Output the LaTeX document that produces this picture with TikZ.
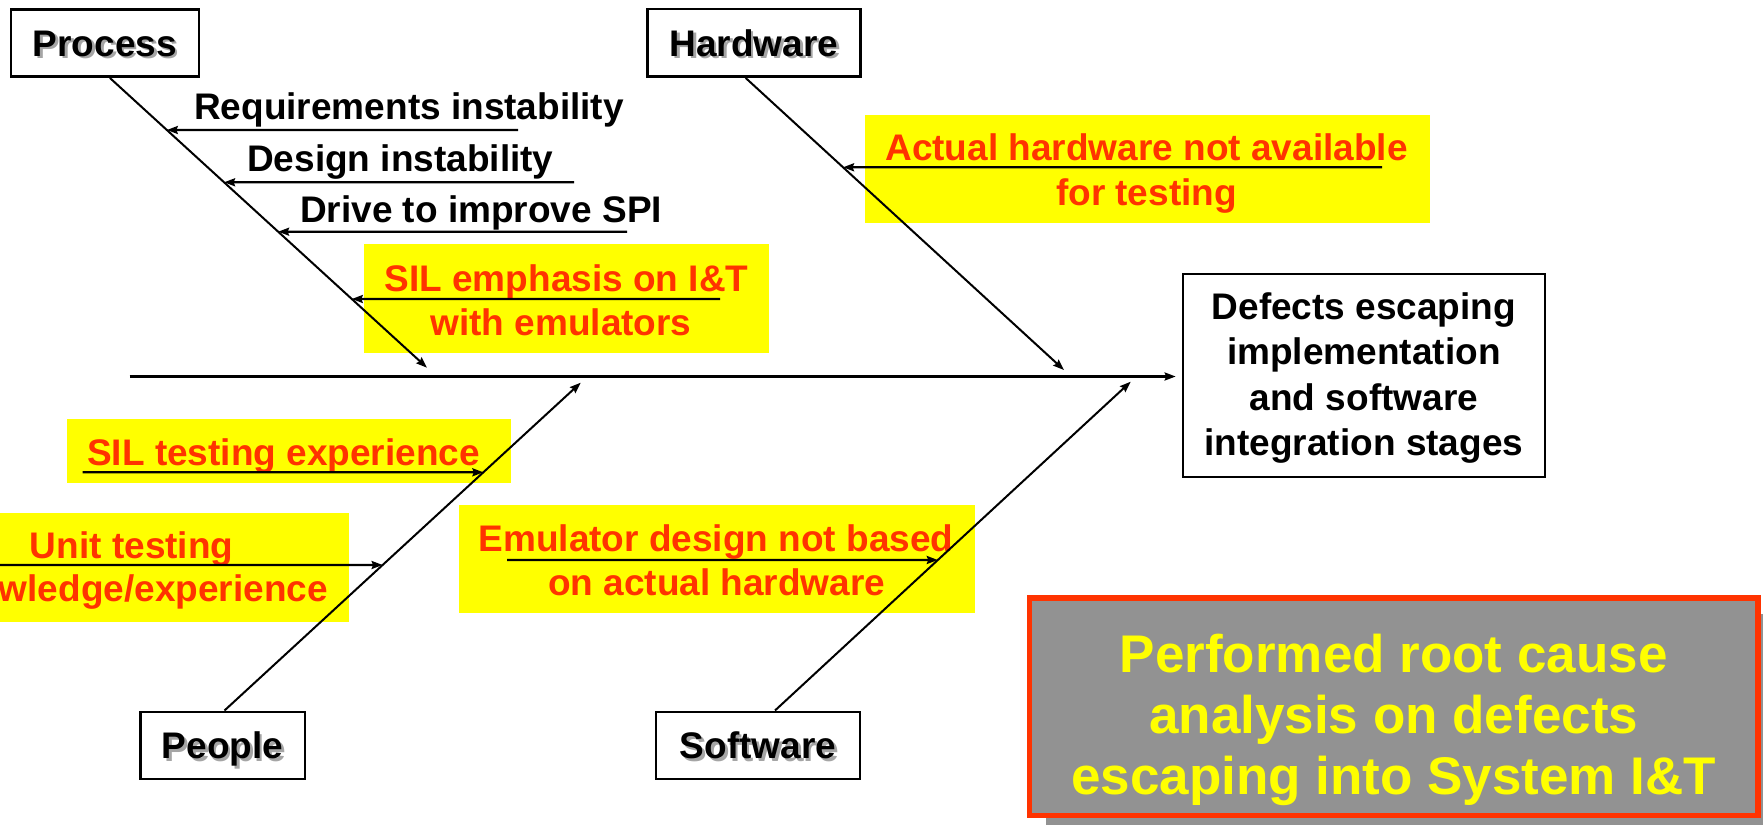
\documentclass[tikz,border=0pt]{standalone}
\usepackage{fontspec}
\setmainfont{Liberation Sans}
\usetikzlibrary{arrows.meta,shadows}

\definecolor{causered}{RGB}{255,51,0}
\definecolor{markyellow}{RGB}{255,255,0}
\definecolor{panelgray}{RGB}{146,146,146}
\definecolor{labelshade}{RGB}{165,165,165}

% category label with a soft grey drop shadow behind the letters
\newcommand\shadedlabel[1]{\rlap{\kern2.5pt\raisebox{-2.5pt}{\textcolor{labelshade}{#1}}}#1}

\begin{document}
\begin{tikzpicture}[x=1pt,y=-1pt,
  font=\fontsize{37}{39}\selectfont\bfseries,
  category/.style={draw,line width=2.5pt,fill=white,inner sep=0pt,text height=26.5pt,text depth=0pt},
  note/.style={anchor=base,inner sep=0pt},
  cause/.style={note,text=causered},
  hilite/.style={fill=markyellow,inner sep=0pt},
  tip/.style={-{Stealth[length=11pt,width=8pt,inset=1.5pt]}},
  bone/.style={line width=2pt,tip},
  twig/.style={line width=2.2pt,tip},
]
\useasboundingbox (0,0) rectangle (1763,824);
\clip (0,0) rectangle (1763,824);

% yellow highlight panels
\node[hilite,minimum width=405pt,minimum height=108.7pt]   (hlEmph) at (566.5,298.4) {};
\node[hilite,minimum width=564.8pt,minimum height=108.3pt] (hlHw)   at (1147.4,169.2) {};
\node[hilite,minimum width=444pt,minimum height=64pt]      (hlSil)  at (289,451) {};
\node[hilite,minimum width=436pt,minimum height=108.4pt]   (hlUnit) at (131,567.5) {};
\node[hilite,minimum width=515.5pt,minimum height=108.3pt] (hlEmu)  at (716.8,559.2) {};

% causes
\node[note,anchor=base west] (tReq) at (194,120)   {Requirements instability};
\node[note,anchor=base west] (tDes) at (247,171.7) {Design instability};
\node[note,anchor=base west] (tDrv) at (300,222.7) {Drive to improve SPI};

\node[cause] (tEmphA) at (566.5,291) {SIL emphasis on I\&T};
\node[cause] (tEmphB) at (561,335)   {with emulators};
\node[cause] (tHwA)   at (1146.5,160) {Actual hardware not available};
\node[cause] (tHwB)   at (1146.5,205) {for testing};
\node[cause,anchor=base west] (tSil) at (87,465) {SIL testing experience};
\node[cause] (tUnitA) at (131.7,558.3) {Unit testing};
\node[cause] (tUnitB) at (130.5,601.7) {knowledge/experience};
\node[cause] (tEmuA)  at (716,551)   {Emulator design not based};
\node[cause] (tEmuB)  at (716.7,595) {on actual hardware};

% category boxes
\node[category,minimum width=187.7pt,minimum height=67.4pt] (process)  at (104.9,43)   {\shadedlabel{Process}};
\node[category,minimum width=212.7pt,minimum height=67.7pt] (hardware) at (754,42.8)   {\shadedlabel{Hardware}};
\node[category,minimum width=164.5pt,minimum height=67.3pt] (people)   at (222.5,745.4) {\shadedlabel{People}};
\node[category,minimum width=204pt,minimum height=67.3pt]   (software) at (758,745.4)  {\shadedlabel{Software}};

% effect box (text height/depth measured from the last line's baseline)
\node[draw,line width=2.5pt,fill=white,inner sep=0pt,minimum width=362pt,minimum height=202.7pt,
      align=center,font=\fontsize{37}{45.5}\selectfont\bfseries,text height=168.2pt,text depth=8pt]
  (effect) at (1363.9,375.4)
  {Defects escaping\\implementation\\and software\hspace*{0.6em}\\integration stages};

% spine
\coordinate (spineTail) at (129.5,376.5);
\draw[line width=2.4pt,tip,shorten >=6pt] (spineTail) -- (spineTail -| effect.west);

% main bones
\coordinate (procRoot) at ([xshift=5pt]process.south);
\coordinate (hwRoot)   at ([xshift=-8.4pt]hardware.south);
\coordinate (pplRoot)  at ([xshift=2pt]people.north);
\coordinate (swRoot)   at ([xshift=17pt]software.north);
\coordinate (procTip) at (427,367.7);
\coordinate (hwTip)   at (1064,370);
\coordinate (pplTip)  at (580.7,382.7);
\coordinate (swTip)   at (1130.7,381.7);
\draw[bone] (procRoot) -- (procTip);
\draw[bone] (hwRoot) -- (hwTip);
\draw[bone] (pplRoot) -- (pplTip);
\draw[bone] (swRoot) -- (swTip);

% sub-causes feeding the bones
\coordinate (cReq)  at (518,130);
\coordinate (cDes)  at (574,182.3);
\coordinate (cDrv)  at (627,231.7);
\coordinate (cEmph) at (720,299);
\coordinate (cHw)   at (1382,167.3);
\coordinate (cSil)  at (82.7,472.3);
\coordinate (cUnit) at (-5,565);
\coordinate (cEmu)  at (507,560);
\draw[twig] (cReq)  -- (intersection of procRoot--procTip and cReq--0,130);
\draw[twig] (cDes)  -- (intersection of procRoot--procTip and cDes--0,182.3);
\draw[twig] (cDrv)  -- (intersection of procRoot--procTip and cDrv--0,231.7);
\draw[twig] (cEmph) -- (intersection of procRoot--procTip and cEmph--0,299);
\draw[twig] (cHw)   -- (intersection of hwRoot--hwTip and cHw--0,167.3);
\draw[twig] (cSil)  -- (intersection of pplRoot--pplTip and cSil--600,472.3);
\draw[twig] (cUnit) -- (intersection of pplRoot--pplTip and cUnit--600,565);
\draw[twig] (cEmu)  -- (intersection of swRoot--swTip and cEmu--1100,560);

% summary panel
\node[draw=causered,line width=5.7pt,fill=panelgray,inner sep=0pt,
      minimum width=728.3pt,minimum height=217.6pt,align=center,text=markyellow,
      font=\fontsize{53}{61}\selectfont\bfseries,text height=186.7pt,text depth=12pt,
      general shadow={fill=panelgray,shadow xshift=16pt,shadow yshift=-16pt}]
  (summary) at (1393.7,706.65)
  {Performed root cause\\analysis on defects\\escaping into System I\&T};
\end{tikzpicture}
\end{document}
